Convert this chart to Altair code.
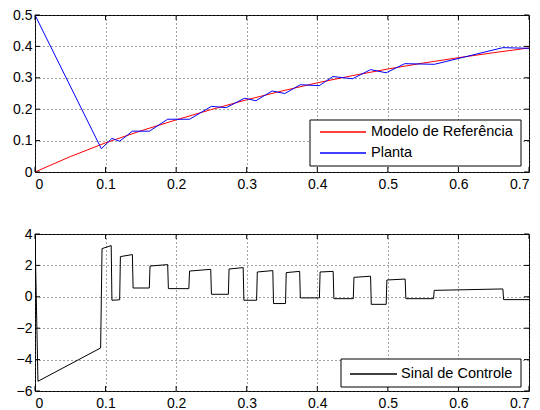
import altair as alt
import pandas as pd

# ---------------- data ----------------
# Top panel: reference model (red)
ref_t = [0.0, 0.05, 0.1, 0.15, 0.2, 0.25, 0.3, 0.35, 0.4, 0.45, 0.5, 0.55, 0.6, 0.65, 0.7]
ref_y = [0.0, 0.049, 0.093, 0.131, 0.166, 0.199, 0.230, 0.258, 0.284, 0.307, 0.328, 0.347, 0.364, 0.380, 0.395]

# Top panel: plant output (blue)
plant_t = [0.0, 0.094, 0.109, 0.120, 0.138, 0.162, 0.188, 0.219, 0.250, 0.271, 0.297, 0.313,
           0.336, 0.354, 0.376, 0.403, 0.422, 0.450, 0.4755, 0.4976, 0.524, 0.566, 0.663, 0.70]
plant_y = [0.5, 0.074, 0.107, 0.098, 0.130, 0.130, 0.168, 0.168, 0.209, 0.205, 0.235, 0.227,
           0.258, 0.250, 0.278, 0.275, 0.304, 0.297, 0.326, 0.316, 0.345, 0.343, 0.396, 0.394]

# Bottom panel: control signal (black)
ctrl_t = [0.0, 0.0042, 0.093, 0.095, 0.108, 0.109, 0.120, 0.121, 0.138, 0.139, 0.162, 0.163,
          0.188, 0.189, 0.218, 0.219, 0.249, 0.250, 0.274, 0.275, 0.295, 0.296, 0.314, 0.315,
          0.337, 0.338, 0.355, 0.356, 0.375, 0.376, 0.403, 0.404, 0.4225, 0.4235, 0.451, 0.452,
          0.4755, 0.4765, 0.4976, 0.4986, 0.5245, 0.5255, 0.5647, 0.5657, 0.663, 0.664, 0.70]
ctrl_u = [4.0, -5.38, -3.26, 3.07, 3.26, -0.22, -0.19, 2.56, 2.69, 0.56, 0.56, 1.96,
          2.05, 0.52, 0.52, 1.64, 1.75, 0.16, 0.16, 1.77, 1.86, -0.22, -0.22, 1.58,
          1.67, -0.43, -0.43, 1.54, 1.62, -0.07, -0.07, 1.58, 1.62, -0.12, -0.12, 1.24,
          1.31, -0.48, -0.48, 1.07, 1.13, -0.12, -0.12, 0.41, 0.50, -0.18, -0.18]

x_ticks = [0, 0.1, 0.2, 0.3, 0.4, 0.5, 0.6, 0.7]
y1_ticks = [0, 0.1, 0.2, 0.3, 0.4, 0.5]
y2_ticks = [-6, -4, -2, 0, 2, 4]

legend_top = ["Modelo de Referência", "Planta"]
legend_bottom = ["Sinal de Controle"]

# ---------------- styling ----------------
W, H = 494, 157
FONT = "Liberation Sans"
TICK_FS = 14
LEG_FS = 14.5
GRID = dict(grid=True, gridDash=[1, 3], gridColor="#444444", gridOpacity=1, gridWidth=1)


def x_axis():
    return alt.Axis(values=x_ticks, format="~f", ticks=False, tickSize=0, domain=False,
                    labelFont=FONT, labelFontSize=TICK_FS, labelColor="black",
                    labelPadding=5, title=None, **GRID)


def y_axis(vals):
    return alt.Axis(values=vals, format="~f", ticks=False, tickSize=0, domain=False,
                    labelFont=FONT, labelFontSize=TICK_FS, labelColor="black",
                    labelPadding=3, title=None, **GRID)


def tick_layers(xs, ys, xscale, yscale):
    dx = pd.DataFrame({"v": xs})
    dy = pd.DataFrame({"v": ys})
    rule = dict(color="black", strokeWidth=1)
    xb = alt.Chart(dx).mark_rule(**rule).encode(
        x=alt.X("v:Q", scale=xscale, axis=x_axis()), y=alt.value(H), y2=alt.value(H - 5))
    xt = alt.Chart(dx).mark_rule(**rule).encode(
        x=alt.X("v:Q", scale=xscale, axis=x_axis()), y=alt.value(0), y2=alt.value(5))
    yl = alt.Chart(dy).mark_rule(**rule).encode(
        y=alt.Y("v:Q", scale=yscale, axis=y_axis(ys)), x=alt.value(0), x2=alt.value(5))
    yr = alt.Chart(dy).mark_rule(**rule).encode(
        y=alt.Y("v:Q", scale=yscale, axis=y_axis(ys)), x=alt.value(W - 5), x2=alt.value(W))
    return [xb, xt, yl, yr]


def legend_box(x0, x1, y0, y1):
    return alt.Chart(pd.DataFrame({"k": [0]})).mark_rect(
        fill="white", stroke="black", strokeWidth=1).encode(
        x=alt.value(x0), x2=alt.value(x1), y=alt.value(y0), y2=alt.value(y1))


def legend_entry(label, color, lx0, lx1, tx, y):
    d = pd.DataFrame({"label": [label]})
    line = alt.Chart(d).mark_rule(color=color, strokeWidth=1.3).encode(
        x=alt.value(lx0), x2=alt.value(lx1), y=alt.value(y))
    txt = alt.Chart(d).mark_text(align="left", baseline="middle", font=FONT,
                                 fontSize=LEG_FS, color="black").encode(
        text="label:N", x=alt.value(tx), y=alt.value(y))
    return [line, txt]


# ---------------- top panel ----------------
xs = alt.Scale(domain=[0, 0.7], nice=False, zero=False)
ys1 = alt.Scale(domain=[0, 0.5], nice=False, zero=False)

ref_df = pd.DataFrame({"t": ref_t, "y": ref_y})
plant_df = pd.DataFrame({"t": plant_t, "y": plant_y})

ref_line = alt.Chart(ref_df).mark_line(color="#ff0000", strokeWidth=1, clip=True).encode(
    x=alt.X("t:Q", scale=xs, axis=x_axis()),
    y=alt.Y("y:Q", scale=ys1, axis=y_axis(y1_ticks)))
plant_line = alt.Chart(plant_df).mark_line(color="#0000ff", strokeWidth=1, clip=True).encode(
    x=alt.X("t:Q", scale=xs, axis=x_axis()),
    y=alt.Y("y:Q", scale=ys1, axis=y_axis(y1_ticks)))

top = alt.layer(
    ref_line, plant_line,
    *tick_layers(x_ticks, y1_ticks, xs, ys1),
    legend_box(275, 486, 105, 151),
    *legend_entry(legend_top[0], "#ff0000", 285, 331, 336, 117),
    *legend_entry(legend_top[1], "#0000ff", 285, 331, 336, 138),
).properties(width=W, height=H)

# ---------------- bottom panel ----------------
ys2 = alt.Scale(domain=[-6, 4], nice=False, zero=False)
ctrl_df = pd.DataFrame({"t": ctrl_t, "u": ctrl_u})

ctrl_line = alt.Chart(ctrl_df).mark_line(color="black", strokeWidth=1, clip=True).encode(
    x=alt.X("t:Q", scale=xs, axis=x_axis()),
    y=alt.Y("u:Q", scale=ys2, axis=y_axis(y2_ticks)))

bottom = alt.layer(
    ctrl_line,
    *tick_layers(x_ticks, y2_ticks, xs, ys2),
    legend_box(306, 486, 125, 153),
    *legend_entry(legend_bottom[0], "black", 315, 362, 366, 140),
).properties(width=W, height=H)

chart = alt.vconcat(top, bottom, spacing=62, bounds="flush").properties(
    padding={"left": 12, "top": 7, "right": 0, "bottom": 0},
    autosize=alt.AutoSizeParams(type="pad"),
    background="white",
).configure_view(stroke="black", strokeWidth=1)

chart.save("out.html", embed_options={"renderer": "svg", "actions": False})
